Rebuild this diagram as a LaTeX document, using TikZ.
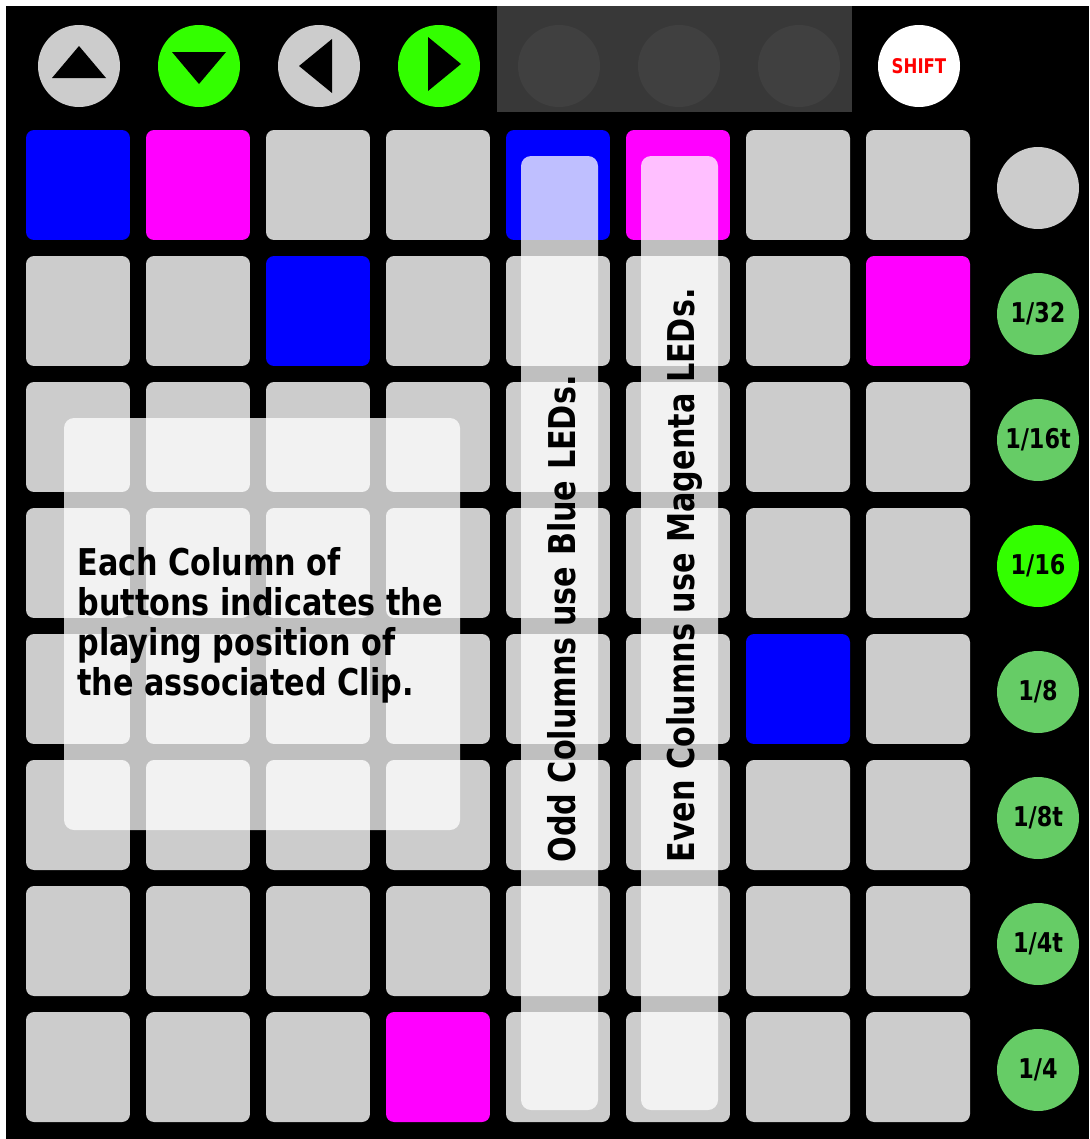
\documentclass[tikz,border=0pt]{standalone}
\usepackage{fontspec}
\newfontfamily\padfont{DejaVu Sans}[FakeStretch=0.82]
\definecolor{padG}{HTML}{CCCCCC}
\definecolor{padB}{HTML}{0000FF}
\definecolor{padM}{HTML}{FF00FF}
\definecolor{litgreen}{HTML}{33FF00}
\definecolor{dimgreen}{HTML}{66CC66}
\definecolor{bandgray}{HTML}{383838}
\definecolor{knobgray}{HTML}{404040}
\tikzset{
  pad/.style={rounded corners=0.16cm, minimum width=2.08cm, minimum height=2.2cm, inner sep=0pt},
  knob/.style={circle, minimum size=1.64cm, inner sep=0pt},
  glass/.style={fill=white, fill opacity=0.75, rounded corners=0.2cm},
  note/.style={font={\padfont\bfseries\fontsize{21}{22.8}\selectfont}, inner sep=0pt, text=black},
}

\begin{document}
\begin{tikzpicture}[x=0.02cm, y=-0.02cm]
        \fill[white] (0,0) rectangle (1089,1139);
        \fill[black] (6,6) rectangle (1089,1139);
        % arrows
        \node[knob, fill=padG] (nav-up) at (79,66) {};
        \node[knob, fill=litgreen] (nav-down) at (199,66) {};
        \node[knob, fill=padG] (nav-left) at (319,66) {};
        \node[knob, fill=litgreen] (nav-right) at (439,66) {};
        \fill ([shift={(0,-20)}]nav-up.center) -- ([shift={(-27,12)}]nav-up.center) -- ([shift={(27,12)}]nav-up.center) -- cycle;
        \fill ([shift={(-27,-14)}]nav-down.center) -- ([shift={(27,-14)}]nav-down.center) -- ([shift={(0,18)}]nav-down.center) -- cycle;
        \fill ([shift={(-20,0)}]nav-left.center) -- ([shift={(13,-27)}]nav-left.center) -- ([shift={(13,27)}]nav-left.center) -- cycle;
        \fill ([shift={(22,-2)}]nav-right.center) -- ([shift={(-11,-29)}]nav-right.center) -- ([shift={(-11,25)}]nav-right.center) -- cycle;
        \fill[bandgray] (497,6) rectangle (852,112);
        \foreach \i in {0,1,2}
            \node[knob, fill=knobgray] (blank-\i) at (559+120*\i,66) {};
        \node[knob, fill=white, text=red, font={\padfont\bfseries\fontsize{11.5}{12}\selectfont}] (shift) at (919,66) {SHIFT};
        % pads
        \foreach \r/\cols in {0/{B,M,G,G,B,M,G,G},1/{G,G,B,G,G,G,G,M},2/{G,G,G,G,G,G,G,G},3/{G,G,G,G,G,G,G,G},
                              4/{G,G,G,G,G,G,B,G},5/{G,G,G,G,G,G,G,G},6/{G,G,G,G,G,G,G,G},7/{G,G,G,M,G,G,G,G}}
            \foreach \c [count=\i from 0] in \cols
                \node[pad, fill=pad\c] (pad-\r-\i) at (78+120*\i,185+126*\r) {};
        % scene buttons
        \node[knob, fill=padG] (scene-0) at (1038,188) {};
        \foreach \lbl/\col [count=\k] in {{1/32}/dimgreen,{1/16t}/dimgreen,{1/16}/litgreen,{1/8}/dimgreen,{1/8t}/dimgreen,{1/4t}/dimgreen,{1/4}/dimgreen}
            \node[knob, fill=\col, font={\padfont\bfseries\fontsize{15.5}{16}\selectfont}] (scene-\k) at (1038,188+126*\k) {\lbl};
        % notes
        \fill[glass] (64,418) rectangle (460,830);
        \fill[glass] (521,156) rectangle (598,1110);
        \fill[glass] (641,156) rectangle (718,1110);
        \node[note, anchor=north west, align=left] (clip-note) at (77,547) {Each Column of\\buttons indicates the\\playing position of\\the associated Clip.};
        \node[note, rotate=90, anchor=base west] (odd-note) at (575,863) {Odd Columns use Blue LEDs.};
        \node[note, rotate=90, anchor=base west] (even-note) at (694,863) {Even Columns use Magenta LEDs.};
    \end{tikzpicture}
\end{document}
